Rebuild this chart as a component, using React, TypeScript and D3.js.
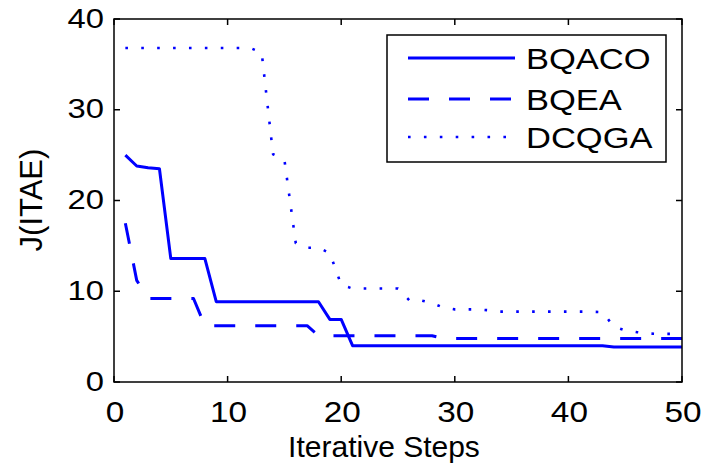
import React, { useEffect, useRef } from 'react';
import * as d3 from 'd3';

const steps = d3.range(1, 51);

const bqaco = [
  25, 23.8, 23.6, 23.5, 13.6, 13.6, 13.6, 13.6, 8.85, 8.85,
  8.85, 8.85, 8.85, 8.85, 8.85, 8.85, 8.85, 8.85, 6.9, 6.9,
  4.0, 4.0, 4.0, 4.0, 4.0, 4.0, 4.0, 4.0, 4.0, 4.0,
  4.0, 4.0, 4.0, 4.0, 4.0, 4.0, 4.0, 4.0, 4.0, 4.0,
  4.0, 4.0, 4.0, 3.85, 3.85, 3.85, 3.85, 3.85, 3.85, 3.85,
];

const bqea = [
  17.5, 11.2, 9.2, 9.2, 9.2, 9.2, 9.2, 6.2, 6.2, 6.2,
  6.2, 6.2, 6.2, 6.2, 6.2, 6.2, 6.2, 5.1, 5.1, 5.1,
  5.1, 5.1, 5.1, 5.1, 5.1, 5.1, 5.1, 5.1, 4.8, 4.8,
  4.8, 4.8, 4.8, 4.8, 4.8, 4.8, 4.8, 4.8, 4.8, 4.8,
  4.8, 4.8, 4.8, 4.8, 4.8, 4.8, 4.8, 4.8, 4.8, 4.8,
];

const dcqga = [
  36.8, 36.8, 36.8, 36.8, 36.8, 36.8, 36.8, 36.8, 36.8, 36.8,
  36.8, 36.8, 36.3, 25.1, 24.5, 15.3, 14.8, 14.8, 14.2, 10.7,
  10.3, 10.3, 10.3, 10.3, 10.3, 9.0, 9.0, 8.7, 8.2, 8.0,
  8.0, 8.0, 7.9, 7.75, 7.75, 7.75, 7.75, 7.75, 7.75, 7.75,
  7.75, 7.75, 7.7, 6.1, 5.7, 5.5, 5.35, 5.3, 5.3, 5.3,
];

const seriesNames = ['BQACO', 'BQEA', 'DCQGA'];
const xTicks = [0, 10, 20, 30, 40, 50];
const yTicks = [0, 10, 20, 30, 40];

const W = 702;
const H = 467;
const margin = { top: 19, right: 20, bottom: 85, left: 114 };
const font = '"Liberation Sans", Arial, sans-serif';
const blue = '#0000ff';

const styles = [
  { width: 3, dash: null },
  { width: 3, dash: '21,20' },
  { width: 2.6, dash: '2.6,13.3' },
];

export default function App() {
  const ref = useRef<SVGSVGElement>(null);

  useEffect(() => {
    const svg = d3.select(ref.current);
    svg.selectAll('*').remove();

    const x = d3.scaleLinear().domain([0, 50]).range([margin.left, W - margin.right]);
    const y = d3.scaleLinear().domain([0, 40]).range([H - margin.bottom, margin.top]);

    const line = d3.line<number>()
      .x((d, i) => x(steps[i]))
      .y(d => y(d));

    const data = [bqaco, bqea, dcqga];

    svg.append('g')
      .selectAll('path')
      .data(data)
      .join('path')
      .attr('fill', 'none')
      .attr('stroke', blue)
      .attr('stroke-width', (d, i) => styles[i].width)
      .attr('stroke-dasharray', (d, i) => styles[i].dash)
      .attr('stroke-linejoin', 'round')
      .attr('d', d => line(d));

    // frame with inward ticks on all sides
    const tick = 6;
    const x0 = x(0), x1 = x(50), y0 = y(0), y1 = y(40);
    svg.append('rect')
      .attr('x', x0).attr('y', y1)
      .attr('width', x1 - x0).attr('height', y0 - y1)
      .attr('fill', 'none').attr('stroke', '#000').attr('stroke-width', 1.5);

    const tg = svg.append('g').attr('stroke', '#000').attr('stroke-width', 1.5);
    xTicks.forEach(t => {
      tg.append('line').attr('x1', x(t)).attr('x2', x(t)).attr('y1', y0).attr('y2', y0 - tick);
      tg.append('line').attr('x1', x(t)).attr('x2', x(t)).attr('y1', y1).attr('y2', y1 + tick);
    });
    yTicks.forEach(t => {
      tg.append('line').attr('x1', x0).attr('x2', x0 + tick).attr('y1', y(t)).attr('y2', y(t));
      tg.append('line').attr('x1', x1).attr('x2', x1 - tick).attr('y1', y(t)).attr('y2', y(t));
    });

    // tick labels (glyphs in the original are a bit wider than Liberation Sans)
    svg.append('g')
      .selectAll('text')
      .data(xTicks)
      .join('text')
      .attr('transform', d => `translate(${x(d) + 1},${y0 + 40}) scale(1.15,1)`)
      .attr('text-anchor', 'middle')
      .attr('font-family', font)
      .attr('font-size', 29)
      .text(d => d);

    svg.append('g')
      .selectAll('text')
      .data(yTicks)
      .join('text')
      .attr('transform', d => `translate(104,${y(d) + 8.5}) scale(1.15,1)`)
      .attr('text-anchor', 'end')
      .attr('font-family', font)
      .attr('font-size', 28.5)
      .text(d => d);

    svg.append('text')
      .attr('x', 384)
      .attr('y', 457)
      .attr('text-anchor', 'middle')
      .attr('font-family', font)
      .attr('font-size', 30)
      .text('Iterative Steps');

    svg.append('text')
      .attr('transform', 'translate(42,200) rotate(-90)')
      .attr('text-anchor', 'middle')
      .attr('font-family', font)
      .attr('font-size', 31)
      .text('J(ITAE)');

    // legend
    const lg = svg.append('g');
    lg.append('rect')
      .attr('x', 387).attr('y', 35).attr('width', 279).attr('height', 127)
      .attr('fill', '#fff').attr('stroke', '#000').attr('stroke-width', 1.5);
    const ly = [58, 99, 137];
    seriesNames.forEach((name, i) => {
      lg.append('line')
        .attr('x1', 408).attr('x2', 515)
        .attr('y1', ly[i]).attr('y2', ly[i])
        .attr('stroke', blue)
        .attr('stroke-width', styles[i].width)
        .attr('stroke-dasharray', styles[i].dash);
      lg.append('text')
        .attr('transform', `translate(526,${ly[i] + 11}) scale(1.15,1)`)
        .attr('font-family', font)
        .attr('font-size', 30)
        .text(name);
    });
  }, []);

  return (
    <svg
      ref={ref}
      width={W}
      height={H}
      style={{ position: 'absolute', left: 0, top: 0, background: '#fff' }}
    />
  );
}
